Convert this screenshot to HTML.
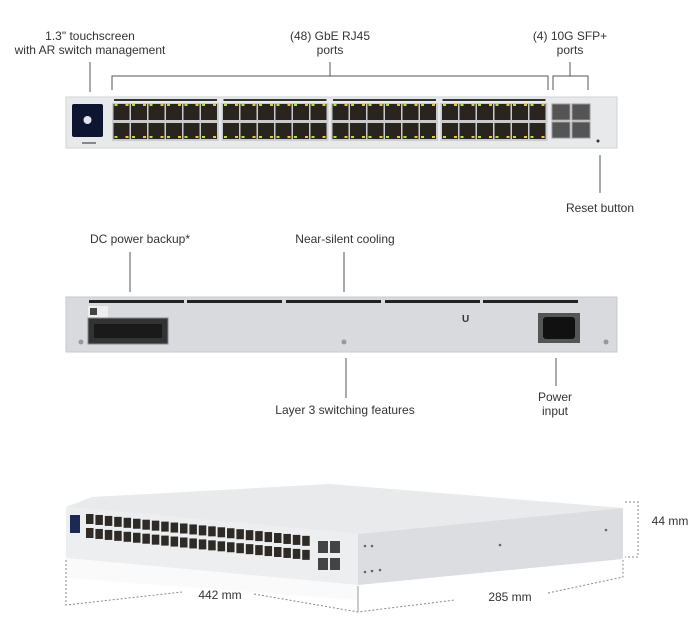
<!DOCTYPE html>
<html><head><meta charset="utf-8"><style>
body{margin:0;background:#fff;width:700px;height:633px;overflow:hidden;position:relative;font-family:"Liberation Sans",sans-serif;color:#333}
.t{position:absolute;font-size:12px;text-align:center;line-height:14px;white-space:nowrap;z-index:2}
svg{position:absolute;left:0;top:0;z-index:1}
</style></head><body>
<div class="t" style="left:0;top:29px;width:180px">1.3" touchscreen<br>with AR switch management</div>
<div class="t" style="left:270px;top:29px;width:120px">(48) GbE RJ45<br>ports</div>
<div class="t" style="left:520px;top:29px;width:100px">(4) 10G SFP+<br>ports</div>
<div class="t" style="left:550px;top:201px;width:100px">Reset button</div>
<div class="t" style="left:60px;top:232px;width:160px">DC power backup*</div>
<div class="t" style="left:270px;top:232px;width:150px">Near-silent cooling</div>
<div class="t" style="left:260px;top:403px;width:170px">Layer 3 switching features</div>
<div class="t" style="left:520px;top:390px;width:70px">Power<br>input</div>
<div class="t" style="left:180px;top:588px;width:80px">442 mm</div>
<div class="t" style="left:470px;top:590px;width:80px">285 mm</div>
<div class="t" style="left:645px;top:514px;width:50px">44 mm</div>
<svg width="700" height="633" id="s">
<g stroke="#555" fill="none" stroke-width="1">
<line x1="90" y1="62" x2="90" y2="92"/>
<path d="M112 90V76H548V90"/><line x1="330" y1="62" x2="330" y2="76"/>
<path d="M553 90V76H588V90"/><line x1="570" y1="62" x2="570" y2="76"/>
<line x1="600" y1="155" x2="600" y2="193"/>
<line x1="130" y1="252" x2="130" y2="292"/>
<line x1="344" y1="252" x2="344" y2="292"/>
<line x1="346" y1="358" x2="346" y2="398"/>
<line x1="556" y1="358" x2="556" y2="386"/>
</g>
<rect x="66" y="97" width="551" height="51" fill="#e8e9eb" stroke="#d0d2d5"/>
<rect x="72" y="104" width="31" height="33" rx="2" fill="#0d1530"/>
<circle cx="87.5" cy="120" r="4" fill="#e0e4ee"/>
<rect x="82" y="142" width="14" height="2" fill="#888"/>
<g id="ports"></g>
<circle cx="598" cy="141" r="1.5" fill="#333"/>
<rect x="66" y="297" width="551" height="55" fill="#d9dadd" stroke="#c8cacd"/>
<g fill="#222"><rect x="89" y="300" width="95" height="3"/><rect x="187" y="300" width="95" height="3"/><rect x="286" y="300" width="95" height="3"/><rect x="385" y="300" width="95" height="3"/><rect x="483" y="300" width="95" height="3"/></g>
<rect x="88" y="306" width="20" height="12" fill="#eee"/>
<rect x="90" y="308" width="7" height="7" fill="#444"/>
<rect x="88" y="318" width="80" height="26" fill="#333" stroke="#888"/>
<rect x="94" y="324" width="68" height="14" fill="#1a1a1a"/>
<rect x="538" y="313" width="42" height="30" fill="#555"/>
<rect x="543" y="317" width="32" height="22" rx="3" fill="#111"/>
<text x="462" y="322" font-size="10" font-weight="bold" fill="#333">U</text>
<circle cx="81" cy="342" r="2.5" fill="#999"/><circle cx="344" cy="342" r="2.5" fill="#999"/><circle cx="606" cy="342" r="2.5" fill="#999"/>
<polygon points="66,507 92,497 330,484 623,508 358,534" fill="#e9eaec"/>
<polygon points="358,534 623,508 623,559 358,585" fill="#dcdde0"/>
<polygon points="66,507 358,534 358,585 66,558" fill="#eceef0"/>
<polygon points="66,558 358,585 358,600 66,578" fill="#fafafa"/>
<rect x="70" y="515" width="10" height="18" fill="#1b2a55"/>
<g id="iso"></g>
<g stroke="#888" fill="none" stroke-dasharray="2,2">
<path d="M66 560V605L182 592M254 594L358 612L455 600M548 593L623 577V560"/>
<path d="M625 502H638V557H625"/>
</g>
<line x1="358" y1="586" x2="358" y2="612" stroke="#999"/>
<g fill="#666"><circle cx="365" cy="546" r="1.3"/><circle cx="372" cy="546" r="1.3"/><circle cx="365" cy="572" r="1.3"/><circle cx="372" cy="571" r="1.3"/><circle cx="380" cy="570" r="1.3"/><circle cx="500" cy="545" r="1.3"/><circle cx="606" cy="530" r="1.3"/></g>
</svg>
<script>
var g=document.getElementById('ports'),h='';
for(var b=0;b<4;b++){var bx=112+b*109.5;h+='<rect x="'+bx+'" y="103" width="107" height="38" fill="#c9cbce"/>';
h+='<rect x="'+(bx+2)+'" y="99" width="103" height="2" fill="#333"/>';
for(var i=0;i<6;i++)for(var r=0;r<2;r++){var x=bx+1.5+i*17.5,y=104+r*19;h+='<rect x="'+x+'" y="'+y+'" width="16" height="16" fill="#2a241e"/><rect x="'+(x+1)+'" y="'+(r?y+13:y)+'" width="3" height="2" fill="#b8e04a"/><rect x="'+(x+12)+'" y="'+(r?y+13:y)+'" width="3" height="2" fill="#e8c84a"/>';}}
for(var i=0;i<2;i++)for(var r=0;r<2;r++)h+='<rect x="'+(552+i*20)+'" y="'+(104+r*18)+'" width="18" height="16" fill="#555" stroke="#999"/>';
g.innerHTML=h;
var s=document.getElementById('iso'),k='';
for(var i=0;i<24;i++){var x=86+i*9.4,y=514+i*0.95;for(var r=0;r<2;r++)k+='<rect x="'+x+'" y="'+(y+r*14)+'" width="7.5" height="10" fill="#2e2a26"/>';}
for(var i=0;i<2;i++)for(var r=0;r<2;r++)k+='<rect x="'+(318+i*12)+'" y="'+(541+r*17)+'" width="10" height="12" fill="#444"/>';
s.innerHTML=k;
</script>
</body></html>
